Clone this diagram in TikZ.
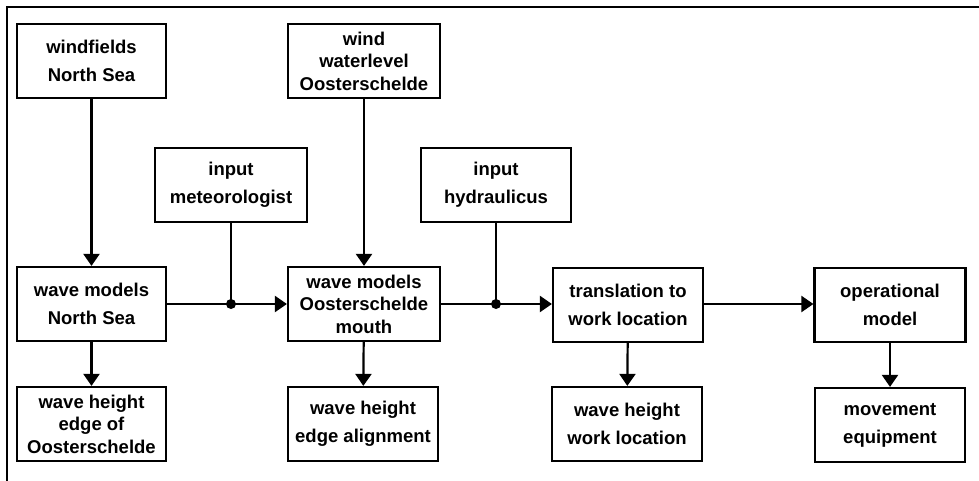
\documentclass[tikz,border=0pt]{standalone}
\usepackage{fontspec}
\setmainfont{Liberation Sans}
\usetikzlibrary{arrows.meta}
\tikzset{
  box/.style={draw, line width=2.2pt, rectangle, inner sep=0pt, align=center,
    minimum width=150pt, minimum height=74pt,
    font=\fontsize{18.5}{28}\selectfont\bfseries},
  tight/.style={font=\fontsize{18.5}{22.5}\selectfont\bfseries},
  conn/.style={line width=2.2pt},
  arr/.style={conn, -{Triangle[width=16pt,length=12pt]}},
  jdot/.style={fill=black}
}
\begin{document}
\begin{tikzpicture}[x=1pt,y=-1pt]
\useasboundingbox (0,0) rectangle (979,481);
\coordinate (tl) at (7,7);
\coordinate (tr0) at (979,7);
\coordinate (bl) at (7,481);
\draw[line width=2.2pt] (tr0) -- (tl) -- (bl);

\node[box, minimum width=149pt] (wf) at (91.5,61) {windfields\\North Sea};
\node[box, minimum width=152pt] (met) at (231,185) {input\\meteorologist};
\node[box, tight, minimum width=152pt] (wwo) at (364,61) {wind\\waterlevel\\Oosterschelde};
\node[box] (hyd) at (496,185) {input\\hydraulicus};

\node[box, minimum width=149pt] (wmns) at (91.5,304) {wave models\\North Sea};
\node[box, tight, minimum width=152pt] (wmo) at (364,304) {wave models\\Oosterschelde\\mouth};
\node[box] (trl) at (628,305) {translation to\\work location};
\node[box, minimum width=151pt] (op) at (890,305) {operational\\model};

\node[box, tight, minimum width=149pt] (whe) at (91.5,424) {wave height\\edge of\\Oosterschelde};
\node[box] (wea) at (363,424) {wave height\\edge alignment};
\node[box] (whw) at (627,424) {wave height\\work location};
\node[box] (me) at (890,425) {movement\\equipment};

\coordinate (d1) at (met.south |- wmns.east);
\coordinate (d2) at (hyd.south |- wmns.east);

\draw[arr] (wf) -- (wmns);
\draw[arr] (wwo) -- (wmo);
\draw[conn] (met) -- (d1);
\draw[conn] (hyd) -- (d2);
\draw[arr] (wmns.east) -- (d1) -- (wmo.west |- d1);
\draw[arr] (wmo.east |- d2) -- (d2) -- (trl.west |- d2);
\draw[arr] (trl.east |- d2) -- (op.west |- d2);
\fill[jdot] (d1) circle (5pt);
\fill[jdot] (d2) circle (5pt);

\draw[arr] (wmns) -- (whe);
\draw[arr] (wmo) -- (wea);
\draw[arr] (trl) -- (whw);
\draw[arr] (op) -- (me);
\end{tikzpicture}
\end{document}
